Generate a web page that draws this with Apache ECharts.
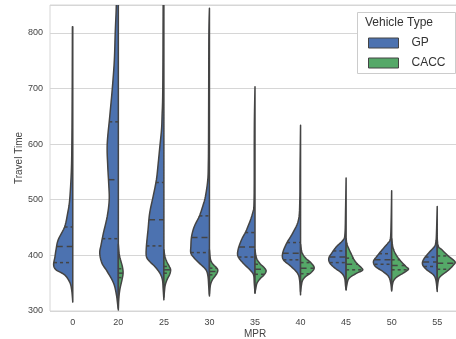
<!DOCTYPE html>
<html>
<head>
<meta charset="utf-8">
<script src="https://cdn.jsdelivr.net/npm/echarts@6/dist/echarts.min.js"></script>
<style>html,body{margin:0;background:#fff}#chart{width:456px;height:339px}</style>
</head>
<body>
<div id="chart"></div>
<script>
const mprLabels = ["0", "20", "25", "30", "35", "40", "45", "50", "55"];
const hueNames = ["GP", "CACC"];

// [travel time, relative density] from top to bottom, one list per MPR
const gpDensity = [
  [[811, 0.02], [700, 0.03], [600, 0.05], [550, 0.08], [500, 0.17], [476, 0.28], [451, 0.45], [428, 0.8], [410, 0.92], [397, 0.98], [383, 1.05], [374, 0.92], [365, 0.45], [352, 0.17], [338, 0.06], [316, 0]],
  [[900, 0.1], [850, 0.11], [800, 0.17], [750, 0.22], [700, 0.33], [650, 0.47], [600, 0.61], [560, 0.58], [530, 0.53], [500, 0.5], [470, 0.61], [440, 0.82], [420, 0.94], [404, 1.02], [386, 0.9], [371, 0.61], [350, 0.26], [330, 0.11], [310, 0.03], [302, 0]],
  [[900, 0.03], [850, 0.04], [700, 0.06], [650, 0.1], [626, 0.13], [596, 0.22], [566, 0.31], [536, 0.41], [506, 0.59], [476, 0.78], [446, 0.87], [416, 0.96], [398, 0.96], [389, 0.78], [380, 0.5], [368, 0.22], [356, 0.08], [340, 0.04], [320, 0]],
  [[844, 0], [800, 0.03], [700, 0.04], [600, 0.05], [566, 0.06], [536, 0.09], [506, 0.22], [488, 0.37], [470, 0.56], [452, 0.83], [434, 0.98], [416, 1.02], [404, 1.02], [395, 0.83], [386, 0.56], [374, 0.19], [362, 0.08], [345, 0.04], [327, 0]],
  [[703, 0], [650, 0.03], [600, 0.04], [500, 0.05], [476, 0.13], [446, 0.46], [428, 0.74], [410, 0.93], [398, 0.93], [386, 0.65], [374, 0.28], [365, 0.08], [350, 0.04], [332, 0]],
  [[634, 0], [550, 0.03], [500, 0.04], [464, 0.11], [440, 0.43], [422, 0.76], [404, 0.98], [392, 0.94], [380, 0.52], [368, 0.17], [355, 0.05], [329, 0]],
  [[539, 0], [480, 0.03], [440, 0.06], [428, 0.15], [416, 0.52], [404, 0.79], [395, 0.95], [386, 0.89], [377, 0.61], [368, 0.24], [359, 0.08], [345, 0.03], [338, 0]],
  [[516, 0], [460, 0.03], [430, 0.07], [422, 0.21], [410, 0.52], [398, 0.82], [389, 1.0], [380, 0.89], [371, 0.48], [362, 0.17], [350, 0.05], [336, 0]],
  [[488, 0], [440, 0.04], [425, 0.07], [416, 0.15], [404, 0.48], [392, 0.76], [383, 0.8], [374, 0.57], [365, 0.21], [355, 0.07], [335, 0]]
];

const caccDensity = [
  null,
  [[420, 0], [400, 0.06], [380, 0.22], [368, 0.26], [356, 0.2], [338, 0.08], [320, 0.02], [305, 0]],
  [[410, 0], [398, 0.06], [388, 0.17], [380, 0.3], [374, 0.37], [366, 0.32], [356, 0.17], [346, 0.07], [335, 0.03], [325, 0]],
  [[410, 0], [392, 0.06], [384, 0.2], [378, 0.38], [373, 0.46], [366, 0.38], [356, 0.16], [346, 0.05], [330, 0]],
  [[410, 0], [395, 0.08], [385, 0.28], [378, 0.5], [372, 0.61], [365, 0.5], [358, 0.28], [350, 0.11], [340, 0.04], [333, 0]],
  [[420, 0], [405, 0.08], [395, 0.28], [387, 0.56], [378, 0.75], [370, 0.61], [362, 0.28], [355, 0.11], [345, 0.04], [335, 0]],
  [[430, 0], [419, 0.06], [404, 0.26], [389, 0.5], [377, 0.86], [373, 0.89], [368, 0.59], [362, 0.28], [356, 0.11], [345, 0.03], [338, 0]],
  [[430, 0], [416, 0.06], [404, 0.19], [392, 0.44], [380, 0.78], [375, 0.92], [368, 0.63], [361, 0.28], [354, 0.1], [345, 0.03], [338, 0]],
  [[430, 0], [416, 0.06], [410, 0.26], [399, 0.6], [389, 0.97], [383, 0.9], [374, 0.63], [362, 0.17], [355, 0.06], [340, 0]]
];

// [Q1, median, Q3]
const gpQuartiles = [[387, 416, 451], [430, 536, 640], [417, 464, 531], [405, 432, 471], [397, 415, 441], [392, 404, 423], [387, 397, 408], [384, 392, 403], [380, 388, 397]];
const caccQuartiles = [null, [360, 368, 376], [368, 374, 380], [365, 371, 377], [366, 375, 384], [367, 377, 387], [374, 384, 395], [374, 382, 392], [375, 386, 399]];

const edgeColor = "#444444";
const font = "Liberation Sans";

function smoothEdge(pts, steps) {
  const out = [];
  for (let k = 0; k < pts.length - 1; k++) {
    const p0 = pts[Math.max(k - 1, 0)], p1 = pts[k], p2 = pts[k + 1], p3 = pts[Math.min(k + 2, pts.length - 1)];
    for (let s = 0; s < steps; s++) {
      const t = s / steps, t2 = t * t, t3 = t2 * t;
      out.push([0, 1].map((d) => 0.5 * (2 * p1[d] + (-p0[d] + p2[d]) * t + (2 * p0[d] - 5 * p1[d] + 4 * p2[d] - p3[d]) * t2 + (-p0[d] + 3 * p1[d] - 3 * p2[d] + p3[d]) * t3)));
    }
  }
  out.push(pts[pts.length - 1]);
  return out;
}

function densityAt(prof, v) {
  for (let k = 0; k < prof.length - 1; k++) {
    const [a, da] = prof[k], [b, db] = prof[k + 1];
    if (v <= a && v >= b) return da + (db - da) * (a - v) / (a - b);
  }
  return 0;
}

function violin(shapes, quartiles, side) {
  return function (params, api) {
    const i = api.value(0);
    const prof = shapes[i];
    const cx = api.coord([i, 0])[0];
    const half = api.size([1, 0])[0] * 0.4;
    const edge = prof.map(([v, d]) => [cx + side * d * half, api.coord([i, v])[1]]);
    let pts = smoothEdge(edge, 6).map(([x, y]) => [side < 0 ? Math.min(x, cx) : Math.max(x, cx), y]);
    pts = [[cx, pts[0][1]], ...pts, [cx, pts[pts.length - 1][1]]];
    const children = [{
      type: "polygon",
      shape: { points: pts },
      style: { fill: api.visual("color"), stroke: edgeColor, lineWidth: 1.5, lineJoin: "round" }
    }];
    quartiles[i].forEach((q, k) => {
      const y = api.coord([i, q])[1];
      const xe = cx + side * densityAt(prof, q) * half;
      children.push({
        type: "line",
        shape: side < 0 ? { x1: xe, y1: y, x2: cx, y2: y } : { x1: cx, y1: y, x2: xe, y2: y },
        style: { stroke: edgeColor, lineWidth: 1.5, lineDash: k === 1 ? [6, 4] : [3, 3] }
      });
    });
    return { type: "group", children };
  };
}

const chart = echarts.init(document.getElementById("chart"));
chart.setOption({
  animation: false,
  grid: { left: 50, top: 5, width: 410, height: 306, outerBoundsMode: "none", show: true, borderColor: "#d6d6d6", borderWidth: 1 },
  xAxis: {
    type: "category",
    data: mprLabels,
    axisLine: { show: false },
    axisTick: { show: false },
    axisLabel: { fontSize: 9, color: "#444", margin: 7, fontFamily: font },
    name: "MPR",
    nameLocation: "middle",
    nameMoveOverlap: false,
    nameGap: 18,
    nameTextStyle: { fontSize: 10, color: "#444", fontFamily: font }
  },
  yAxis: {
    type: "value",
    min: 300,
    max: 850,
    interval: 100,
    axisLine: { show: false },
    axisTick: { show: false },
    splitLine: { lineStyle: { color: "#d6d6d6", width: 1 } },
    axisLabel: { fontSize: 9, color: "#444", margin: 7, showMaxLabel: false, fontFamily: font },
    name: "Travel Time",
    nameLocation: "middle",
    nameMoveOverlap: false,
    nameGap: 26,
    nameTextStyle: { fontSize: 10, color: "#444", fontFamily: font }
  },
  legend: {
    orient: "vertical",
    left: 363,
    top: 32,
    itemWidth: 30,
    itemHeight: 10,
    itemGap: 8,
    icon: "rect",
    textStyle: { fontSize: 12, color: "#333", padding: [0, 0, 0, 8], fontFamily: font },
    data: hueNames.map((name) => ({ name, itemStyle: { borderColor: edgeColor, borderWidth: 1 } }))
  },
  graphic: [
    { type: "rect", left: 357, top: 12, z: 3, shape: { width: 98, height: 61 }, style: { fill: "#fff", stroke: "#cccccc", lineWidth: 1 } },
    { type: "text", left: 365, top: 17, z: 4, style: { text: "Vehicle Type", fontSize: 12, fill: "#333", fontFamily: font } }
  ],
  series: [
    {
      name: hueNames[0],
      type: "custom",
      clip: true,
      itemStyle: { color: "#4C72B0" },
      encode: { x: 0, y: 1 },
      renderItem: violin(gpDensity, gpQuartiles, -1),
      data: gpQuartiles.map((q, i) => [i, q[1]])
    },
    {
      name: hueNames[1],
      type: "custom",
      clip: true,
      itemStyle: { color: "#55A868" },
      encode: { x: 0, y: 1 },
      renderItem: violin(caccDensity, caccQuartiles, 1),
      data: caccQuartiles.map((q, i) => (q ? [i, q[1]] : null)).filter(Boolean)
    }
  ]
});
</script>
</body>
</html>
